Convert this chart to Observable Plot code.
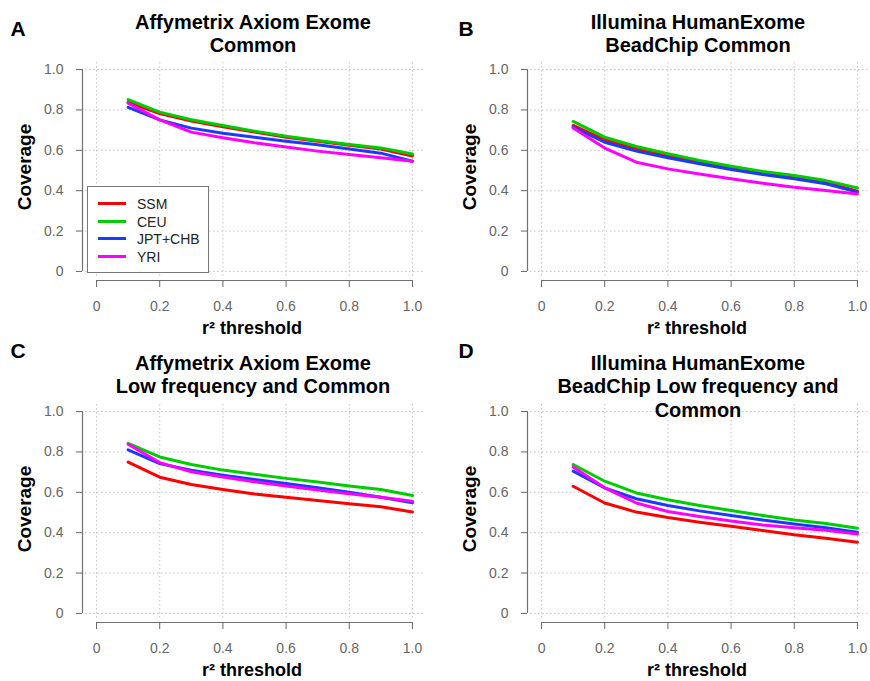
<!DOCTYPE html>
<html><head><meta charset="utf-8">
<script src="https://cdn.jsdelivr.net/npm/d3@7"></script>
<script src="https://cdn.jsdelivr.net/npm/@observablehq/plot@0.6"></script>
<style>
body{margin:0;background:#fff;}
#chart{position:relative;width:870px;height:681px;overflow:hidden;background:#fff;font-family:"Liberation Sans",Arial,sans-serif;}
.panel{position:absolute;}
.t{position:absolute;transform:translate(-50%,-50%);white-space:nowrap;text-align:center;color:#000;}
.legend{position:absolute;border:1px solid #777;background:#fff;box-sizing:border-box;}
.lrow{position:absolute;left:0;height:18px;font-size:14px;color:#222;}
.lline{position:absolute;left:10px;top:7px;width:28px;height:3px;}
.ltext{position:absolute;left:49px;top:0;line-height:18px;}
</style></head><body><div id="chart"></div>
<script>
// ---- data ----
const thresholds = [0.1, 0.2, 0.3, 0.4, 0.5, 0.6, 0.7, 0.8, 0.9, 1.0];
const populations = ["SSM", "CEU", "JPT+CHB", "YRI"];
const popColors = ["#ff0000", "#00cd00", "#1a3aff", "#ff00ff"];
const axisTicks = [0, 0.2, 0.4, 0.6, 0.8, 1.0];
const axisTickLabels = ["0", "0.2", "0.4", "0.6", "0.8", "1.0"];
const panelLetters = ["A", "B", "C", "D"];
const panelTitles = [
  ["Affymetrix Axiom Exome", "Common"],
  ["Illumina HumanExome", "BeadChip Common"],
  ["Affymetrix Axiom Exome", "Low frequency and Common"],
  ["Illumina HumanExome", "BeadChip Low frequency and", "Common"]
];
const yAxisLabel = "Coverage";
const xAxisLabel = "r² threshold";

// A: Affymetrix Axiom Exome, Common
const axiomCommon_SSM = [0.838, 0.782, 0.745, 0.717, 0.690, 0.665, 0.645, 0.625, 0.606, 0.572];
const axiomCommon_CEU = [0.851, 0.789, 0.751, 0.723, 0.695, 0.670, 0.649, 0.629, 0.612, 0.582];
const axiomCommon_JPTCHB = [0.813, 0.751, 0.710, 0.685, 0.665, 0.645, 0.627, 0.607, 0.586, 0.546];
const axiomCommon_YRI = [0.833, 0.751, 0.690, 0.662, 0.637, 0.616, 0.596, 0.579, 0.563, 0.546];
// B: Illumina HumanExome BeadChip, Common
const illuminaCommon_SSM = [0.723, 0.652, 0.607, 0.574, 0.541, 0.513, 0.488, 0.467, 0.442, 0.398];
const illuminaCommon_CEU = [0.743, 0.665, 0.619, 0.583, 0.550, 0.521, 0.495, 0.475, 0.450, 0.414];
const illuminaCommon_JPTCHB = [0.715, 0.640, 0.596, 0.563, 0.533, 0.505, 0.480, 0.459, 0.434, 0.393];
const illuminaCommon_YRI = [0.711, 0.611, 0.541, 0.508, 0.483, 0.459, 0.437, 0.417, 0.401, 0.384];
// C: Affymetrix Axiom Exome, Low frequency and Common
const axiomAll_SSM = [0.750, 0.675, 0.639, 0.614, 0.592, 0.576, 0.560, 0.543, 0.528, 0.503];
const axiomAll_CEU = [0.843, 0.775, 0.738, 0.710, 0.689, 0.669, 0.651, 0.631, 0.614, 0.584];
const axiomAll_JPTCHB = [0.810, 0.742, 0.709, 0.685, 0.664, 0.644, 0.623, 0.601, 0.576, 0.548];
const axiomAll_YRI = [0.838, 0.747, 0.702, 0.676, 0.652, 0.631, 0.611, 0.593, 0.576, 0.556];
// D: Illumina HumanExome BeadChip, Low frequency and Common
const illuminaAll_SSM = [0.630, 0.547, 0.502, 0.475, 0.452, 0.432, 0.411, 0.390, 0.373, 0.353];
const illuminaAll_CEU = [0.738, 0.655, 0.597, 0.563, 0.535, 0.510, 0.485, 0.463, 0.446, 0.422];
const illuminaAll_JPTCHB = [0.705, 0.622, 0.568, 0.535, 0.508, 0.485, 0.463, 0.443, 0.425, 0.402];
const illuminaAll_YRI = [0.725, 0.622, 0.547, 0.505, 0.480, 0.458, 0.438, 0.424, 0.412, 0.393];

const panelSeries = [
  [axiomCommon_SSM, axiomCommon_CEU, axiomCommon_JPTCHB, axiomCommon_YRI],
  [illuminaCommon_SSM, illuminaCommon_CEU, illuminaCommon_JPTCHB, illuminaCommon_YRI],
  [axiomAll_SSM, axiomAll_CEU, axiomAll_JPTCHB, axiomAll_YRI],
  [illuminaAll_SSM, illuminaAll_CEU, illuminaAll_JPTCHB, illuminaAll_YRI]
];

// ---- layout ----
const chart = document.getElementById("chart");
const W = 425, H = 342;
const panelOffsets = [[0, 0], [445, 0], [0, 342], [445, 342]];
const dom = [-0.035, 1.035];
const fmt = d => axisTickLabels[axisTicks.indexOf(d)];

function addText(txt, x, y, css, rotate) {
  const d = document.createElement("div");
  d.className = "t";
  d.textContent = txt;
  Object.assign(d.style, css);
  d.style.left = x + "px";
  d.style.top = y + "px";
  if (rotate) d.style.transform = "translate(-50%,-50%) rotate(-90deg)";
  chart.appendChild(d);
  return d;
}

function makePanel(series) {
  const data = [];
  populations.forEach((p, k) => series[k].forEach((v, i) => data.push({r2: thresholds[i], cov: v, pop: p})));
  return Plot.plot({
    width: W, height: H,
    marginLeft: 85, marginRight: 2, marginTop: 62, marginBottom: 64,
    style: {background: "transparent", fontFamily: "'Liberation Sans', Arial, sans-serif", overflow: "visible"},
    x: {domain: dom},
    y: {domain: dom},
    color: {domain: populations, range: popColors},
    marks: [
      Plot.gridX(axisTicks, {stroke: "#c4c4c4", strokeOpacity: 1, strokeWidth: 1, strokeDasharray: "1.5,2.5"}),
      Plot.gridY(axisTicks, {stroke: "#c4c4c4", strokeOpacity: 1, strokeWidth: 1, strokeDasharray: "1.5,2.5"}),
      Plot.ruleX([dom[0]], {y1: 0, y2: 1, dx: -3, stroke: "#707070", strokeWidth: 1.2}),
      Plot.ruleY([dom[0]], {x1: 0, x2: 1, dy: 2, stroke: "#707070", strokeWidth: 1.2}),
      Plot.axisY(axisTicks, {anchor: "left", tickSize: 6, tickPadding: 13, dx: -3, tickFormat: fmt, fontSize: 14, color: "#666", label: null}),
      Plot.axisX(axisTicks, {anchor: "bottom", tickSize: 7, tickPadding: 14, dy: 2, tickFormat: fmt, fontSize: 14, color: "#666", label: null}),
      Plot.line(data, {x: "r2", y: "cov", stroke: "pop", z: "pop", strokeWidth: 3})
    ]
  });
}

panelSeries.forEach((series, idx) => {
  const [ox, oy] = panelOffsets[idx];
  const svg = makePanel(series);
  svg.classList.add("panel");
  svg.style.left = ox + "px";
  svg.style.top = oy + "px";
  chart.appendChild(svg);

  // panel letter
  const letterY = idx < 2 ? 28.5 : 351;
  addText(panelLetters[idx], ox + (idx % 2 ? 21 : 18), letterY, {fontSize: "21px", fontWeight: "bold", lineHeight: "24px"});
  // title lines
  const titleTop = idx < 2 ? 22 : 362.5;
  panelTitles[idx].forEach((line, j) => {
    addText(line, ox + 253, oy === 0 ? titleTop + j * 23 : titleTop + j * 23.5, {fontSize: "20px", fontWeight: "bold", lineHeight: "23px"});
  });
  // axis titles
  addText(yAxisLabel, ox + 25, oy + 167, {fontSize: "19px", fontWeight: "bold", lineHeight: "22px"}, true);
  addText(xAxisLabel, ox + 252, oy + 328, {fontSize: "18px", fontWeight: "bold", lineHeight: "22px"});
});

// legend (panel A)
const lg = document.createElement("div");
lg.className = "legend";
Object.assign(lg.style, {left: "87px", top: "186px", width: "122px", height: "87px"});
populations.forEach((p, k) => {
  const row = document.createElement("div");
  row.className = "lrow";
  row.style.top = (8 + k * 17.7) + "px";
  row.style.width = "120px";
  const ln = document.createElement("div");
  ln.className = "lline";
  ln.style.background = popColors[k];
  const tx = document.createElement("div");
  tx.className = "ltext";
  tx.textContent = p;
  row.appendChild(ln); row.appendChild(tx);
  lg.appendChild(row);
});
chart.appendChild(lg);
</script></body></html>
